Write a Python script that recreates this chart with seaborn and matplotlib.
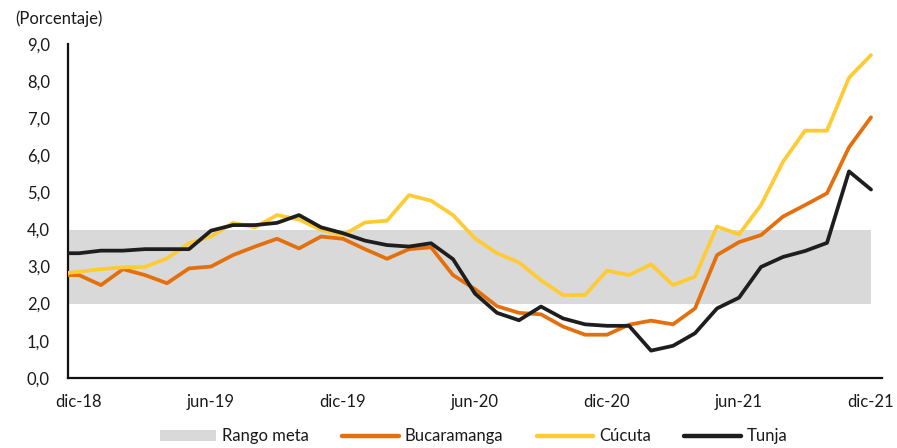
import numpy as np
import pandas as pd
import matplotlib
matplotlib.use("Agg")
import matplotlib.pyplot as plt
from matplotlib.patches import Patch
from matplotlib.lines import Line2D
import seaborn as sns

# Monthly inflation by city (annual % change), nov-18 through dic-21
meses = ["nov-18", "dic-18", "ene-19", "feb-19", "mar-19", "abr-19", "may-19", "jun-19",
         "jul-19", "ago-19", "sep-19", "oct-19", "nov-19", "dic-19", "ene-20", "feb-20",
         "mar-20", "abr-20", "may-20", "jun-20", "jul-20", "ago-20", "sep-20", "oct-20",
         "nov-20", "dic-20", "ene-21", "feb-21", "mar-21", "abr-21", "may-21", "jun-21",
         "jul-21", "ago-21", "sep-21", "oct-21", "nov-21", "dic-21"]

bucaramanga = [2.77, 2.77, 2.50, 2.93, 2.77, 2.55, 2.95, 3.00, 3.31, 3.54, 3.75, 3.49,
               3.81, 3.75, 3.47, 3.21, 3.47, 3.52, 2.77, 2.39, 1.93, 1.75, 1.71, 1.38,
               1.16, 1.16, 1.43, 1.54, 1.44, 1.87, 3.31, 3.66, 3.85, 4.35, 4.66, 4.98,
               6.22, 7.03]
cucuta = [2.80, 2.86, 2.93, 2.98, 2.99, 3.22, 3.63, 3.81, 4.18, 4.06, 4.39, 4.27,
          3.99, 3.85, 4.19, 4.24, 4.93, 4.78, 4.39, 3.76, 3.36, 3.11, 2.63, 2.23,
          2.23, 2.89, 2.77, 3.06, 2.50, 2.73, 4.08, 3.87, 4.66, 5.83, 6.67, 6.67,
          8.10, 8.71]
tunja = [3.36, 3.36, 3.43, 3.43, 3.47, 3.47, 3.47, 3.97, 4.12, 4.12, 4.18, 4.39,
         4.06, 3.90, 3.70, 3.58, 3.54, 3.63, 3.20, 2.27, 1.75, 1.55, 1.92, 1.60,
         1.44, 1.40, 1.40, 0.73, 0.86, 1.20, 1.87, 2.16, 2.99, 3.26, 3.42, 3.64,
         5.57, 5.08]

rango_meta = (2.0, 4.0)
etiquetas_x = ["dic-18", "jun-19", "dic-19", "jun-20", "dic-20", "jun-21", "dic-21"]
ciudades = ["Bucaramanga", "Cúcuta", "Tunja"]
colores = {"Bucaramanga": "#E3700C", "Cúcuta": "#FFCB35", "Tunja": "#1E1E1E"}

# month position: dic-18 = 0
pos = np.arange(len(meses)) - 1
df = pd.concat([
    pd.DataFrame({"pos": pos, "mes": meses, "valor": vals, "ciudad": nombre})
    for nombre, vals in zip(ciudades, [bucaramanga, cucuta, tunja])
], ignore_index=True)

sns.set_theme(style="white")
plt.rcParams["font.family"] = ["Lato", "DejaVu Sans"]
plt.rcParams["text.color"] = "#1a1a1a"

fig = plt.figure(figsize=(8.97, 4.48), dpi=100)
ax = fig.add_axes([0.0758, 0.157, 0.9075, 0.744])

# target range band
ax.fill_between([-0.5, 36], rango_meta[0], rango_meta[1], color="#D9D9D9", lw=0, zorder=1)

sns.lineplot(data=df, x="pos", y="valor", hue="ciudad", hue_order=ciudades,
             palette=colores, linewidth=2.7, ax=ax, legend=False, zorder=3)

ax.set_xlim(-0.5, 36.5)
ax.set_ylim(0, 9)
ax.set_xlabel("")
ax.set_ylabel("")

# y axis
ax.set_yticks(np.arange(0, 9.5, 1.0))
ax.set_yticklabels([f"{v:.1f}".replace(".", ",") for v in np.arange(0, 9.5, 1.0)])

# x axis: tick marks at half-month boundaries, labels centred on the month
ax.set_xticks(np.arange(0, 37, 6))
ax.set_xticklabels(etiquetas_x)
ax.set_xticks(np.arange(-0.5, 37, 6), minor=True)
ax.tick_params(axis="x", which="major", length=0, pad=12, labelsize=12, labelcolor="#1a1a1a")
ax.tick_params(axis="x", which="minor", direction="in", length=5, width=1.4, color="#111111")
ax.tick_params(axis="y", which="major", direction="in", length=5, width=1.4, color="#111111",
               pad=13, labelsize=12, labelcolor="#1a1a1a")

for side in ["top", "right"]:
    ax.spines[side].set_visible(False)
for side in ["left", "bottom"]:
    ax.spines[side].set_color("#111111")
    ax.spines[side].set_linewidth(1.6)
ax.grid(False)

fig.text(15 / 897, 1 - 19 / 448, "(Porcentaje)", ha="left", va="center", fontsize=12)

handles = [Patch(facecolor="#D9D9D9", edgecolor="none", label="Rango meta")]
handles += [Line2D([0], [0], color=colores[c], lw=3.2, solid_capstyle="round", label=c)
            for c in ciudades]
fig.legend(handles=handles, loc="center", bbox_to_anchor=(0.528, 0.026), ncol=4,
           frameon=False, fontsize=12, handlelength=3.4, handleheight=0.6,
           handletextpad=0.35, columnspacing=2.0)

fig.savefig("out.png", dpi=100)
